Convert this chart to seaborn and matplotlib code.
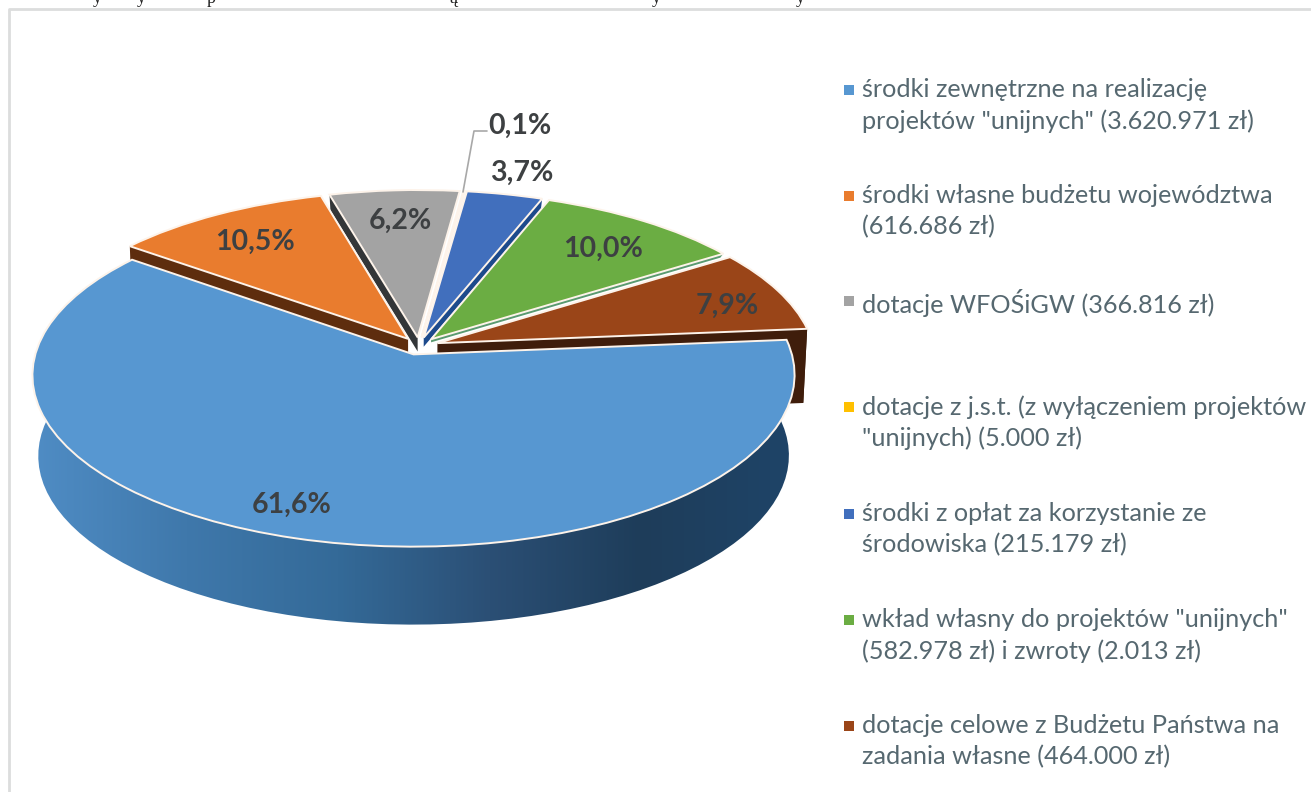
import numpy as np
import matplotlib
matplotlib.use("Agg")
import matplotlib.pyplot as plt
import seaborn as sns
from matplotlib.colors import LinearSegmentedColormap
from matplotlib.path import Path
from matplotlib.patches import PathPatch, Polygon
from matplotlib.transforms import Transform

# kwoty z legendy (zł)
amounts = [3620971, 616686, 366816, 5000, 215179, 584991, 464000]
pct_labels = ["61,6%", "10,5%", "6,2%", "0,1%", "3,7%", "10,0%", "7,9%"]
legend_labels = [
    'środki zewnętrzne na realizację\nprojektów "unijnych" (3.620.971 zł)',
    "środki własne budżetu województwa\n(616.686 zł)",
    "dotacje WFOŚiGW (366.816 zł)",
    'dotacje z j.s.t. (z wyłączeniem projektów\n"unijnych) (5.000 zł)',
    "środki z opłat za korzystanie ze\nśrodowiska (215.179 zł)",
    'wkład własny do projektów "unijnych"\n(582.978 zł) i zwroty (2.013 zł)',
    "dotacje celowe z Budżetu Państwa na\nzadania własne (464.000 zł)",
]
top_colors = ["#5797d1", "#e97c2e", "#a3a3a3", "#ffc000", "#416fbd", "#6bad43", "#9a4518"]
lip_colors = ["#1f3d5a", "#5e2d0e", "#333638", "#7f6000", "#1d4a8c", "#5a9a70", "#3f1d0b"]

sns.set_theme(style="white")
plt.rcParams["font.family"] = ["Lato", "DejaVu Sans"]

CX, CY, A, B, K = 419, 346, 376, 167, 0.12


class Persp(Transform):
    """ rzut perspektywiczny: wspolrzedne kola -> piksele """
    input_dims = 2
    output_dims = 2

    def transform_non_affine(self, xy):
        xy = np.asarray(xy, dtype=float)
        w = 1 + K * xy[:, 1]
        return np.column_stack([CX + A * xy[:, 0] / w, CY - B * xy[:, 1] / w])


persp = Persp()


def arc_px(w, n=80):
    t = np.radians(np.linspace(w.theta1, w.theta2, n))
    xy = np.column_stack([w.center[0] + w.r * np.cos(t), w.center[1] + w.r * np.sin(t)])
    return persp.transform_non_affine(xy)


def shifted(pts, d, s):
    out = pts.copy()
    out[:, 0] = CX + (out[:, 0] - CX) * s
    out[:, 1] = CY + (out[:, 1] - CY) * s + d
    return out


fig = plt.figure(figsize=(13.11, 7.92), dpi=100, facecolor="white")
ax = fig.add_axes([0, 0, 1, 1])

wedges, _ = ax.pie(amounts, colors=sns.color_palette(top_colors), startangle=5,
                   counterclock=False, explode=[0.052] * len(amounts))
ax.set_aspect("auto")

# kolejnosc od tylu do przodu
draw_order = [2, 3, 4, 1, 5, 6, 0]
# ktora krawedz ma widoczny bok: (theta, glebokosc)
lips = {1: ("theta2", 80), 2: ("theta2", 14), 4: ("theta1", 9), 5: ("theta1", 3), 6: ("theta1", 74)}

z = 2
for i in draw_order:
    w = wedges[i]
    apex = persp.transform_non_affine(np.array([w.center], dtype=float))
    arc = arc_px(w)
    if i in lips:
        which, d = lips[i]
        end = arc[-1:] if which == "theta2" else arc[:1]
        s = 0.99
        quad = np.vstack([apex, end, shifted(end, d, s), shifted(apex, d, s)])
        ax.add_patch(Polygon(quad, closed=True, fc=lip_colors[i], ec="none", zorder=z))
        z += 1
    if i == 6:
        band = np.vstack([arc, shifted(arc, 74, 0.99)[::-1]])
        ax.add_patch(Polygon(band, closed=True, fc=lip_colors[i], ec="none", zorder=z))
        z += 1
    if i == 0:
        # gradient na scianie bocznej duzego wycinka
        band = np.vstack([arc, shifted(arc, 81, 0.985)[::-1]])
        cmap = LinearSegmentedColormap.from_list(
            "side", ["#4f8cc4", "#3f78ab", "#346a98", "#2b4f75", "#1e3d5a", "#1f4468"])
        im = ax.imshow(np.linspace(0, 1, 256)[None, :], cmap=cmap, aspect="auto",
                       extent=(35, 793, 640, 340), zorder=z)
        im.set_clip_path(PathPatch(Path(band, closed=False), transform=ax.transData))
        z += 1
    w.set_transform(persp + ax.transData)
    w.set_edgecolor("#fdf3ea")
    w.set_linewidth(1.4)
    w.set_zorder(z)
    z += 1

ax.set_xlim(0, 1311)
ax.set_ylim(792, 0)
ax.axis("off")

# ramka wykresu (skan)
ax.plot([1311, 9, 9], [9, 9, 792], color="#dcdddd", lw=2, zorder=1)

# linia odniesienia do etykiety 0,1%
ax.plot([463, 474, 487], [192, 131, 131], color="#a8a8a8", lw=1.2, zorder=z)
z += 1

label_xy = [(292, 505), (255, 242), (400, 221), (520, 126), (522, 173), (603, 249), (727, 306)]
for txt, (x, y) in zip(pct_labels, label_xy):
    ax.text(x, y, txt, ha="center", va="center", fontsize=20.5, fontweight="bold",
            color="#3d4042", zorder=z)

# legenda
legend_y = [90, 196, 301, 407, 514, 620, 726]
for lab, col, y in zip(legend_labels, top_colors, legend_y):
    ax.scatter([849], [y], marker="s", s=42, color=col, linewidths=0, zorder=z)
    ax.text(862, y - 12, lab, ha="left", va="top", fontsize=18.2, color="#566870",
            linespacing=1.41, zorder=z)

# resztki tekstu nad ramka
for ch, x in zip("yypąyy", [97, 141, 211, 453, 656, 800]):
    ax.text(x, 3, ch, ha="center", va="baseline", fontsize=13, color="#222222",
            family="Liberation Serif")

fig.savefig("out.png", dpi=100)
